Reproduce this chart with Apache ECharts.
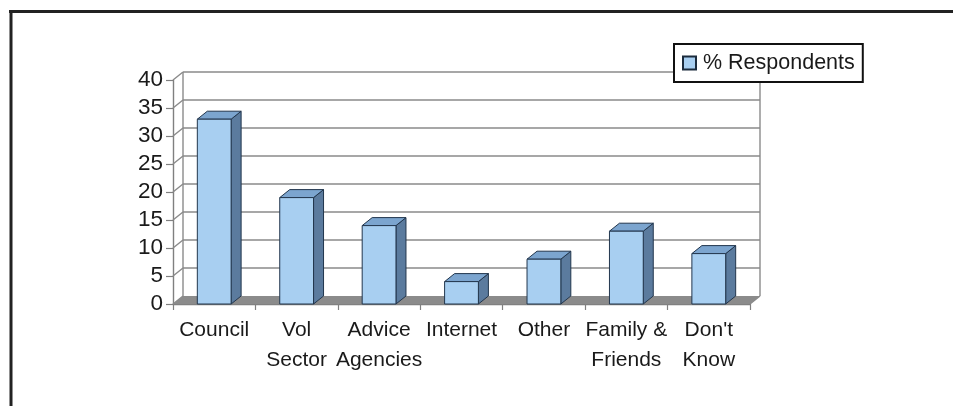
<!DOCTYPE html>
<html><head><meta charset="utf-8">
<style>html,body{margin:0;padding:0;background:#fff}#c{width:953px;height:406px}</style>
<script src="https://cdn.jsdelivr.net/npm/echarts@6/dist/echarts.min.js"></script>
</head><body><div id="c"></div>
<script>
const categories = ["Council","Vol\nSector","Advice\nAgencies","Internet","Other","Family &\nFriends","Don't\nKnow"];
const respondents = [33,19,14,4,8,13,9];
const yTicks = [0,5,10,15,20,25,30,35,40];
const seriesName = "% Respondents";

const FONT = '"Liberation Sans", Arial, sans-serif';
const DX = 10, DY = -8;
const chart = echarts.init(document.getElementById('c'), null, {renderer:'canvas'});

function renderWall(params, api){
  const sys = params.coordSys;
  const v = api.value(1);
  const y = api.coord([0, v])[1];
  const x0 = sys.x, x1 = sys.x + sys.width;
  const line = {stroke:'#8a8a8a', lineWidth:1.4};
  const children = [];
  if (v === 0) {
    children.push({type:'polygon', shape:{points:[[x0,y],[x1,y],[x1+DX,y+DY],[x0+DX,y+DY]]}, style:{fill:'#8b8b8b'}});
    children.push({type:'line', shape:{x1:x0+DX,y1:y+DY,x2:x0+DX,y2:sys.y+DY}, style:line});
    children.push({type:'line', shape:{x1:x1+DX,y1:y+DY,x2:x1+DX,y2:sys.y+DY}, style:line});
    children.push({type:'line', shape:{x1:x1,y1:y,x2:x1+DX,y2:y+DY}, style:line});
  } else {
    children.push({type:'line', shape:{x1:x0+DX,y1:y+DY,x2:x1+DX,y2:y+DY}, style:line});
  }
  children.push({type:'line', shape:{x1:x0,y1:y,x2:x0+DX,y2:y+DY}, style:line});
  return {type:'group', children};
}

function renderBar(params, api){
  const top = api.coord([api.value(0), api.value(1)]);
  const base = api.coord([api.value(0), 0]);
  const w = api.size([1,0])[0] * 0.41;
  const l = top[0] - w/2, r = top[0] + w/2;
  const edge = {stroke:'#22364d', lineWidth:1, lineJoin:'round'};
  return {type:'group', children:[
    {type:'polygon', shape:{points:[[r,top[1]],[r+DX,top[1]+DY],[r+DX,base[1]+DY],[r,base[1]]]},
      style:Object.assign({fill:'#5b7b9e'}, edge)},
    {type:'polygon', shape:{points:[[l,top[1]],[l+DX,top[1]+DY],[r+DX,top[1]+DY],[r,top[1]]]},
      style:Object.assign({fill:'#7ca5cf'}, edge)},
    {type:'rect', shape:{x:l,y:top[1],width:w,height:base[1]-top[1]},
      style:Object.assign({fill:'#a8cff1'}, edge)}
  ]};
}

chart.setOption({
  animation:false,
  backgroundColor:'#fff',
  textStyle:{fontFamily:FONT},
  grid:{left:173, right:203, top:80, bottom:102, containLabel:false},
  legend:{
    left:674, top:44, orient:'horizontal',
    padding:[8,8,8,8],
    backgroundColor:'#fff', borderColor:'#111', borderWidth:2, borderRadius:0,
    itemWidth:13, itemHeight:13, itemGap:0,
    textStyle:{fontFamily:FONT, fontSize:21.5, color:'#1a1a1a', padding:[0,0,0,2]},
    data:[{name:seriesName, icon:'rect', itemStyle:{color:'#a8cff1', borderColor:'#1b2b3d', borderWidth:2}}]
  },
  xAxis:{
    type:'category', data:categories, boundaryGap:true,
    axisLine:{lineStyle:{color:'#808080', width:1.4}},
    axisTick:{show:true, length:6, lineStyle:{color:'#808080', width:1.2}},
    axisLabel:{interval:0, fontFamily:FONT, fontSize:21, lineHeight:30, color:'#1a1a1a', margin:11}
  },
  yAxis:{
    type:'value', min:0, max:40, interval:5,
    axisLine:{show:true, lineStyle:{color:'#808080', width:1.4}},
    axisTick:{show:true, length:7, lineStyle:{color:'#808080', width:1.2}},
    axisLabel:{fontFamily:FONT, fontSize:22.5, color:'#1a1a1a', margin:10},
    splitLine:{show:false}
  },
  graphic:[
    {type:'line', silent:true, shape:{x1:9,y1:11.5,x2:953,y2:11.5}, style:{stroke:'#222', lineWidth:3}},
    {type:'line', silent:true, shape:{x1:11,y1:10,x2:11,y2:406}, style:{stroke:'#222', lineWidth:3}}
  ],
  series:[
    {type:'custom', silent:true, clip:false, z:1, renderItem:renderWall,
      encode:{x:0,y:1}, data:yTicks.map(t=>[0,t])},
    {type:'custom', name:seriesName, silent:true, clip:false, z:3, renderItem:renderBar,
      encode:{x:0,y:1}, data:respondents.map((v,i)=>[i,v])}
  ]
});
</script></body></html>
